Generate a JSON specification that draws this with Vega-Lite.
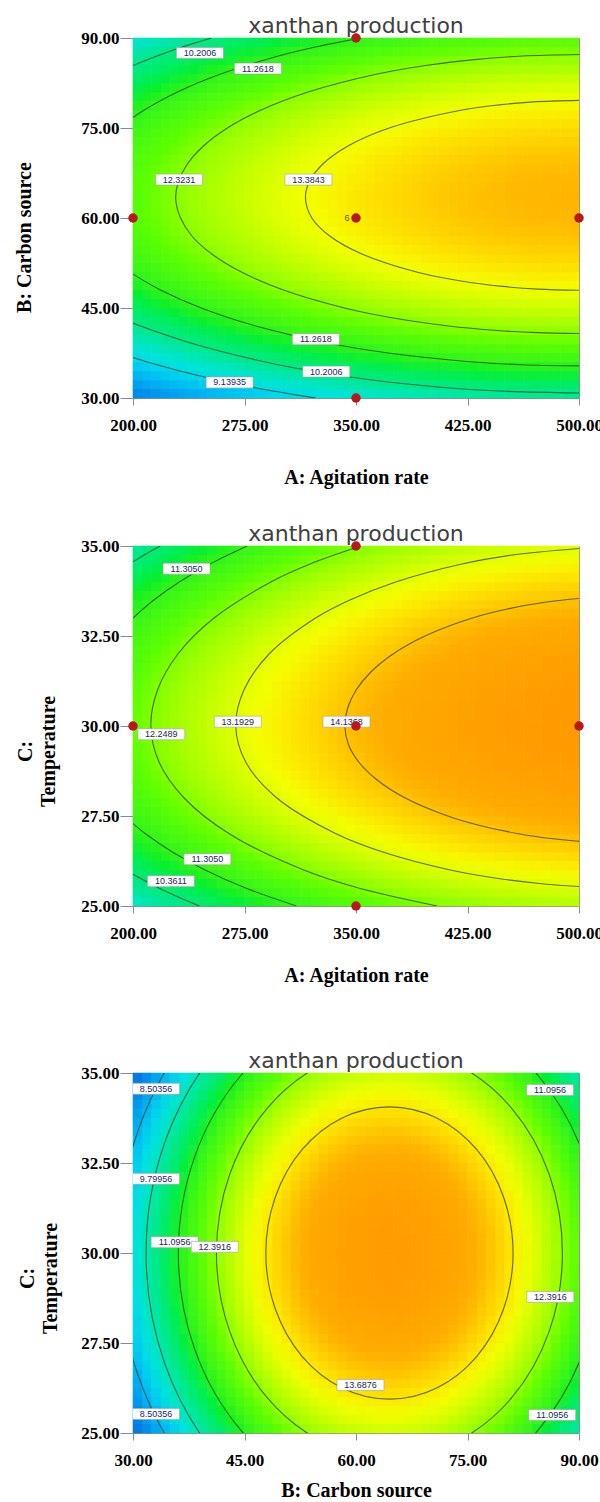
{
"$schema": "https://vega.github.io/schema/vega-lite/v6.json",
"padding": {"left": 14, "top": 15, "right": 0, "bottom": 0},
"background": "#ffffff",
"config": {
 "view": {"stroke": null},
 "axis": {"grid": false, "labelFont": "Liberation Serif", "labelFontWeight": "bold", "labelFontSize": 17, "labelColor": "#000000", "titleFont": "Liberation Serif", "titleFontWeight": "bold", "titleFontSize": 20, "titleColor": "#000000", "tickColor": "#8c8c8c", "domainColor": "#8c8c8c", "zindex": 1, "labelFlush": false, "labelOverlap": false},
 "title": {"font": "DejaVu Sans", "fontSize": 22, "fontWeight": "normal", "color": "#404040", "frame": "group", "anchor": "middle", "offset": -9}
},
"datasets": {
 "grid": [
  {"p":1,"j":[0],"i":[0,1,2,3,4,5,6,7,8,9,10,11,12,13,14,15,16,17,18,19,20,21,22,23],"v":[8.05,8.25,8.43,8.61,8.77,8.93,9.08,9.22,9.36,9.48,9.60,9.71,9.81,9.90,9.99,10.06,10.13,10.19,10.24,10.28,10.32,10.34,10.36,10.37]},
  {"p":1,"j":[1],"i":[0,1,2,3,4,5,6,7,8,9,10,11,12,13,14,15,16,17,18,19,20,21,22,23],"v":[8.75,8.95,9.13,9.31,9.47,9.63,9.78,9.92,10.06,10.18,10.30,10.41,10.51,10.60,10.69,10.76,10.83,10.89,10.94,10.98,11.02,11.04,11.06,11.07]},
  {"p":1,"j":[2],"i":[0,1,2,3,4,5,6,7,8,9,10,11,12,13,14,15,16,17,18,19,20,21,22,23],"v":[9.39,9.59,9.77,9.95,10.11,10.27,10.42,10.56,10.70,10.82,10.94,11.05,11.15,11.24,11.33,11.40,11.47,11.53,11.58,11.62,11.66,11.68,11.70,11.71]},
  {"p":1,"j":[3],"i":[0,1,2,3,4,5,6,7,8,9,10,11,12,13,14,15,16,17,18,19,20,21,22,23],"v":[9.96,10.16,10.34,10.52,10.68,10.84,10.99,11.13,11.27,11.39,11.51,11.62,11.72,11.81,11.90,11.97,12.04,12.10,12.15,12.19,12.23,12.25,12.27,12.28]},
  {"p":1,"j":[4],"i":[0,1,2,3,4,5,6,7,8,9,10,11,12,13,14,15,16,17,18,19,20,21,22,23],"v":[10.46,10.66,10.84,11.02,11.18,11.34,11.49,11.63,11.77,11.89,12.01,12.12,12.22,12.31,12.40,12.47,12.54,12.60,12.65,12.69,12.73,12.75,12.77,12.78]},
  {"p":1,"j":[5],"i":[0,1,2,3,4,5,6,7,8,9,10,11,12,13,14,15,16,17,18,19,20,21,22,23],"v":[10.88,11.08,11.26,11.44,11.60,11.76,11.91,12.05,12.19,12.31,12.43,12.54,12.64,12.73,12.82,12.89,12.96,13.02,13.07,13.11,13.15,13.17,13.19,13.20]},
  {"p":1,"j":[6],"i":[0,1,2,3,4,5,6,7,8,9,10,11,12,13,14,15,16,17,18,19,20,21,22,23],"v":[11.24,11.44,11.62,11.80,11.96,12.12,12.27,12.41,12.55,12.67,12.79,12.90,13.00,13.09,13.18,13.25,13.32,13.38,13.43,13.47,13.51,13.53,13.55,13.56]},
  {"p":1,"j":[7],"i":[0,1,2,3,4,5,6,7,8,9,10,11,12,13,14,15,16,17,18,19,20,21,22,23],"v":[11.53,11.73,11.91,12.09,12.25,12.41,12.56,12.70,12.84,12.96,13.08,13.19,13.29,13.38,13.47,13.54,13.61,13.67,13.72,13.76,13.80,13.82,13.84,13.85]},
  {"p":1,"j":[8],"i":[0,1,2,3,4,5,6,7,8,9,10,11,12,13,14,15,16,17,18,19,20,21,22,23],"v":[11.74,11.94,12.12,12.30,12.46,12.62,12.77,12.91,13.05,13.17,13.29,13.40,13.50,13.59,13.68,13.75,13.82,13.88,13.93,13.97,14.01,14.03,14.05,14.06]},
  {"p":1,"j":[9],"i":[0,1,2,3,4,5,6,7,8,9,10,11,12,13,14,15,16,17,18,19,20,21,22,23],"v":[11.89,12.09,12.27,12.45,12.61,12.77,12.92,13.06,13.20,13.32,13.44,13.55,13.65,13.74,13.83,13.90,13.97,14.03,14.08,14.12,14.16,14.18,14.20,14.21]},
  {"p":1,"j":[10],"i":[0,1,2,3,4,5,6,7,8,9,10,11,12,13,14,15,16,17,18,19,20,21,22,23],"v":[11.97,12.17,12.35,12.53,12.69,12.85,13.00,13.14,13.28,13.40,13.52,13.63,13.73,13.82,13.91,13.98,14.05,14.11,14.16,14.20,14.24,14.26,14.28,14.29]},
  {"p":1,"j":[11],"i":[0,1,2,3,4,5,6,7,8,9,10,11,12,13,14,15,16,17,18,19,20,21,22,23],"v":[11.98,12.18,12.36,12.54,12.70,12.86,13.01,13.15,13.29,13.41,13.53,13.64,13.74,13.83,13.92,13.99,14.06,14.12,14.17,14.21,14.25,14.27,14.29,14.30]},
  {"p":1,"j":[12],"i":[0,1,2,3,4,5,6,7,8,9,10,11,12,13,14,15,16,17,18,19,20,21,22,23],"v":[11.92,12.12,12.30,12.48,12.64,12.80,12.95,13.09,13.23,13.35,13.47,13.58,13.68,13.77,13.86,13.93,14.00,14.06,14.11,14.15,14.19,14.21,14.23,14.24]},
  {"p":1,"j":[13],"i":[0,1,2,3,4,5,6,7,8,9,10,11,12,13,14,15,16,17,18,19,20,21,22,23],"v":[11.80,12.00,12.18,12.36,12.52,12.68,12.83,12.97,13.11,13.23,13.35,13.46,13.56,13.65,13.74,13.81,13.88,13.94,13.99,14.03,14.07,14.09,14.11,14.12]},
  {"p":1,"j":[14],"i":[0,1,2,3,4,5,6,7,8,9,10,11,12,13,14,15,16,17,18,19,20,21,22,23],"v":[11.62,11.82,12.00,12.18,12.34,12.50,12.65,12.79,12.93,13.05,13.17,13.28,13.38,13.47,13.56,13.63,13.70,13.76,13.81,13.85,13.89,13.91,13.93,13.94]},
  {"p":1,"j":[15],"i":[0,1,2,3,4,5,6,7,8,9,10,11,12,13,14,15,16,17,18,19,20,21,22,23],"v":[11.38,11.58,11.76,11.94,12.10,12.26,12.41,12.55,12.69,12.81,12.93,13.04,13.14,13.23,13.32,13.39,13.46,13.52,13.57,13.61,13.65,13.67,13.69,13.70]},
  {"p":1,"j":[16],"i":[0,1,2,3,4,5,6,7,8,9,10,11,12,13,14,15,16,17,18,19,20,21,22,23],"v":[11.08,11.28,11.46,11.64,11.80,11.96,12.11,12.25,12.39,12.51,12.63,12.74,12.84,12.93,13.02,13.09,13.16,13.22,13.27,13.31,13.35,13.37,13.39,13.40]},
  {"p":1,"j":[17],"i":[0,1,2,3,4,5,6,7,8,9,10,11,12,13,14,15,16,17,18,19,20,21,22,23],"v":[10.71,10.91,11.09,11.27,11.43,11.59,11.74,11.88,12.02,12.14,12.26,12.37,12.47,12.56,12.65,12.72,12.79,12.85,12.90,12.94,12.98,13.00,13.02,13.03]},
  {"p":1,"j":[18],"i":[0,1,2,3,4,5,6,7,8,9,10,11,12,13,14,15,16,17,18,19,20,21,22,23],"v":[10.28,10.48,10.66,10.84,11.00,11.16,11.31,11.45,11.59,11.71,11.83,11.94,12.04,12.13,12.22,12.29,12.36,12.42,12.47,12.51,12.55,12.57,12.59,12.60]},
  {"p":1,"j":[19],"i":[0,1,2,3,4,5,6,7,8,9,10,11,12,13,14,15,16,17,18,19,20,21,22,23],"v":[9.79,9.99,10.17,10.35,10.51,10.67,10.82,10.96,11.10,11.22,11.34,11.45,11.55,11.64,11.73,11.80,11.87,11.93,11.98,12.02,12.06,12.08,12.10,12.11]},
  {"p":2,"j":[0],"i":[0,1,2,3,4,5,6,7,8,9,10,11,12,13,14,15,16,17,18,19,20,21,22,23],"v":[9.93,10.16,10.38,10.59,10.79,10.98,11.16,11.33,11.50,11.65,11.80,11.94,12.07,12.19,12.30,12.41,12.50,12.59,12.66,12.73,12.79,12.84,12.88,12.92]},
  {"p":2,"j":[1],"i":[0,1,2,3,4,5,6,7,8,9,10,11,12,13,14,15,16,17,18,19,20,21,22,23],"v":[10.37,10.60,10.82,11.03,11.23,11.42,11.60,11.77,11.94,12.09,12.24,12.38,12.51,12.63,12.74,12.85,12.94,13.03,13.10,13.17,13.23,13.28,13.32,13.36]},
  {"p":2,"j":[2],"i":[0,1,2,3,4,5,6,7,8,9,10,11,12,13,14,15,16,17,18,19,20,21,22,23],"v":[10.76,10.99,11.21,11.42,11.62,11.81,11.99,12.16,12.33,12.48,12.63,12.77,12.90,13.02,13.13,13.24,13.33,13.42,13.49,13.56,13.62,13.67,13.71,13.75]},
  {"p":2,"j":[3],"i":[0,1,2,3,4,5,6,7,8,9,10,11,12,13,14,15,16,17,18,19,20,21,22,23],"v":[11.10,11.33,11.55,11.76,11.96,12.15,12.33,12.50,12.67,12.82,12.97,13.11,13.24,13.36,13.47,13.58,13.67,13.76,13.83,13.90,13.96,14.01,14.05,14.09]},
  {"p":2,"j":[4],"i":[0,1,2,3,4,5,6,7,8,9,10,11,12,13,14,15,16,17,18,19,20,21,22,23],"v":[11.40,11.63,11.85,12.06,12.26,12.45,12.63,12.80,12.97,13.12,13.27,13.41,13.54,13.66,13.77,13.88,13.97,14.06,14.13,14.20,14.26,14.31,14.35,14.39]},
  {"p":2,"j":[5],"i":[0,1,2,3,4,5,6,7,8,9,10,11,12,13,14,15,16,17,18,19,20,21,22,23],"v":[11.64,11.87,12.09,12.30,12.50,12.69,12.87,13.04,13.21,13.36,13.51,13.65,13.78,13.90,14.01,14.12,14.21,14.30,14.37,14.44,14.50,14.55,14.59,14.63]},
  {"p":2,"j":[6],"i":[0,1,2,3,4,5,6,7,8,9,10,11,12,13,14,15,16,17,18,19,20,21,22,23],"v":[11.84,12.07,12.29,12.50,12.70,12.89,13.07,13.24,13.41,13.56,13.71,13.85,13.98,14.10,14.21,14.32,14.41,14.50,14.57,14.64,14.70,14.75,14.79,14.83]},
  {"p":2,"j":[7],"i":[0,1,2,3,4,5,6,7,8,9,10,11,12,13,14,15,16,17,18,19,20,21,22,23],"v":[11.99,12.22,12.44,12.65,12.85,13.04,13.22,13.39,13.56,13.71,13.86,14.00,14.13,14.25,14.36,14.47,14.56,14.65,14.72,14.79,14.85,14.90,14.94,14.98]},
  {"p":2,"j":[8],"i":[0,1,2,3,4,5,6,7,8,9,10,11,12,13,14,15,16,17,18,19,20,21,22,23],"v":[12.08,12.31,12.53,12.74,12.94,13.13,13.31,13.48,13.65,13.80,13.95,14.09,14.22,14.34,14.45,14.56,14.65,14.74,14.81,14.88,14.94,14.99,15.03,15.07]},
  {"p":2,"j":[9,10],"i":[0,1,2,3,4,5,6,7,8,9,10,11,12,13,14,15,16,17,18,19,20,21,22,23],"v":[12.13,12.36,12.58,12.79,12.99,13.18,13.36,13.53,13.70,13.85,14.00,14.14,14.27,14.39,14.50,14.61,14.70,14.79,14.86,14.93,14.99,15.04,15.08,15.12]},
  {"p":2,"j":[11],"i":[0,1,2,3,4,5,6,7,8,9,10,11,12,13,14,15,16,17,18,19,20,21,22,23],"v":[12.09,12.32,12.54,12.75,12.95,13.14,13.32,13.49,13.66,13.81,13.96,14.10,14.23,14.35,14.46,14.57,14.66,14.75,14.82,14.89,14.95,15.00,15.04,15.08]},
  {"p":2,"j":[12],"i":[0,1,2,3,4,5,6,7,8,9,10,11,12,13,14,15,16,17,18,19,20,21,22,23],"v":[12.02,12.25,12.47,12.68,12.88,13.07,13.25,13.42,13.59,13.74,13.89,14.03,14.16,14.28,14.39,14.50,14.59,14.68,14.75,14.82,14.88,14.93,14.97,15.01]},
  {"p":2,"j":[13],"i":[0,1,2,3,4,5,6,7,8,9,10,11,12,13,14,15,16,17,18,19,20,21,22,23],"v":[11.89,12.12,12.34,12.55,12.75,12.94,13.12,13.29,13.46,13.61,13.76,13.90,14.03,14.15,14.26,14.37,14.46,14.55,14.62,14.69,14.75,14.80,14.84,14.88]},
  {"p":2,"j":[14],"i":[0,1,2,3,4,5,6,7,8,9,10,11,12,13,14,15,16,17,18,19,20,21,22,23],"v":[11.74,11.97,12.19,12.40,12.60,12.79,12.97,13.14,13.31,13.46,13.61,13.75,13.88,14.00,14.11,14.22,14.31,14.40,14.47,14.54,14.60,14.65,14.69,14.73]},
  {"p":2,"j":[15],"i":[0,1,2,3,4,5,6,7,8,9,10,11,12,13,14,15,16,17,18,19,20,21,22,23],"v":[11.54,11.77,11.99,12.20,12.40,12.59,12.77,12.94,13.11,13.26,13.41,13.55,13.68,13.80,13.91,14.02,14.11,14.20,14.27,14.34,14.40,14.45,14.49,14.53]},
  {"p":2,"j":[16],"i":[0,1,2,3,4,5,6,7,8,9,10,11,12,13,14,15,16,17,18,19,20,21,22,23],"v":[11.29,11.52,11.74,11.95,12.15,12.34,12.52,12.69,12.86,13.01,13.16,13.30,13.43,13.55,13.66,13.77,13.86,13.95,14.02,14.09,14.15,14.20,14.24,14.28]},
  {"p":2,"j":[17],"i":[0,1,2,3,4,5,6,7,8,9,10,11,12,13,14,15,16,17,18,19,20,21,22,23],"v":[11.02,11.25,11.47,11.68,11.88,12.07,12.25,12.42,12.59,12.74,12.89,13.03,13.16,13.28,13.39,13.50,13.59,13.68,13.75,13.82,13.88,13.93,13.97,14.01]},
  {"p":2,"j":[18],"i":[0,1,2,3,4,5,6,7,8,9,10,11,12,13,14,15,16,17,18,19,20,21,22,23],"v":[10.69,10.92,11.14,11.35,11.55,11.74,11.92,12.09,12.26,12.41,12.56,12.70,12.83,12.95,13.06,13.17,13.26,13.35,13.42,13.49,13.55,13.60,13.64,13.68]},
  {"p":2,"j":[19],"i":[0,1,2,3,4,5,6,7,8,9,10,11,12,13,14,15,16,17,18,19,20,21,22,23],"v":[10.34,10.57,10.79,11.00,11.20,11.39,11.57,11.74,11.91,12.06,12.21,12.35,12.48,12.60,12.71,12.82,12.91,13.00,13.07,13.14,13.20,13.25,13.29,13.33]},
  {"p":3,"j":[0,19],"i":[0,1,2,3,4,5,6,7,8,9,10,11,12,13,14,15,16,17,18,19,20,21,22,23],"v":[7.79,8.57,9.29,9.95,10.55,11.08,11.56,11.98,12.33,12.63,12.86,13.03,13.14,13.19,13.18,13.10,12.97,12.77,12.51,12.20,11.82,11.38,10.88,10.32]},
  {"p":3,"j":[1,18],"i":[0,1,2,3,4,5,6,7,8,9,10,11,12,13,14,15,16,17,18,19,20,21,22,23],"v":[8.16,8.94,9.66,10.32,10.92,11.45,11.93,12.35,12.70,13.00,13.23,13.40,13.51,13.56,13.55,13.47,13.34,13.14,12.88,12.57,12.19,11.75,11.25,10.69]},
  {"p":3,"j":[2,17],"i":[0,1,2,3,4,5,6,7,8,9,10,11,12,13,14,15,16,17,18,19,20,21,22,23],"v":[8.49,9.27,9.99,10.65,11.25,11.78,12.26,12.68,13.03,13.33,13.56,13.73,13.84,13.89,13.88,13.80,13.67,13.47,13.21,12.90,12.52,12.08,11.58,11.02]},
  {"p":3,"j":[3,16],"i":[0,1,2,3,4,5,6,7,8,9,10,11,12,13,14,15,16,17,18,19,20,21,22,23],"v":[8.77,9.55,10.27,10.93,11.53,12.06,12.54,12.96,13.31,13.61,13.84,14.01,14.12,14.17,14.16,14.08,13.95,13.75,13.49,13.18,12.80,12.36,11.86,11.30]},
  {"p":3,"j":[4,15],"i":[0,1,2,3,4,5,6,7,8,9,10,11,12,13,14,15,16,17,18,19,20,21,22,23],"v":[9.02,9.80,10.52,11.18,11.78,12.31,12.79,13.21,13.56,13.86,14.09,14.26,14.37,14.42,14.41,14.33,14.20,14.00,13.74,13.43,13.05,12.61,12.11,11.55]},
  {"p":3,"j":[5,14],"i":[0,1,2,3,4,5,6,7,8,9,10,11,12,13,14,15,16,17,18,19,20,21,22,23],"v":[9.23,10.01,10.73,11.39,11.99,12.52,13.00,13.42,13.77,14.07,14.30,14.47,14.58,14.63,14.62,14.54,14.41,14.21,13.95,13.64,13.26,12.82,12.32,11.76]},
  {"p":3,"j":[6,13],"i":[0,1,2,3,4,5,6,7,8,9,10,11,12,13,14,15,16,17,18,19,20,21,22,23],"v":[9.39,10.17,10.89,11.55,12.15,12.68,13.16,13.58,13.93,14.23,14.46,14.63,14.74,14.79,14.78,14.70,14.57,14.37,14.11,13.80,13.42,12.98,12.48,11.92]},
  {"p":3,"j":[7,12],"i":[0,1,2,3,4,5,6,7,8,9,10,11,12,13,14,15,16,17,18,19,20,21,22,23],"v":[9.51,10.29,11.01,11.67,12.27,12.80,13.28,13.70,14.05,14.35,14.58,14.75,14.86,14.91,14.90,14.82,14.69,14.49,14.23,13.92,13.54,13.10,12.60,12.04]},
  {"p":3,"j":[8,11],"i":[0,1,2,3,4,5,6,7,8,9,10,11,12,13,14,15,16,17,18,19,20,21,22,23],"v":[9.59,10.37,11.09,11.75,12.35,12.88,13.36,13.78,14.13,14.43,14.66,14.83,14.94,14.99,14.98,14.90,14.77,14.57,14.31,14.00,13.62,13.18,12.68,12.12]},
  {"p":3,"j":[9,10],"i":[0,1,2,3,4,5,6,7,8,9,10,11,12,13,14,15,16,17,18,19,20,21,22,23],"v":[9.63,10.41,11.13,11.79,12.39,12.92,13.40,13.82,14.17,14.47,14.70,14.87,14.98,15.03,15.02,14.94,14.81,14.61,14.35,14.04,13.66,13.22,12.72,12.16]}
 ],
 "grid2": [
  {"p":1,"y":[30],"x":[200,212.5,225,237.5,250,262.5,275,287.5,300,312.5,325,337.5,350,362.5,375,387.5,400,412.5,425,437.5,450,462.5,475,487.5,500],"v":[7.58,7.77,7.96,8.14,8.31,8.47,8.63,8.77,8.91,9.04,9.16,9.27,9.38,9.48,9.56,9.64,9.72,9.78,9.83,9.88,9.92,9.95,9.97,9.98,9.99]},
  {"p":1,"y":[33],"x":[200,212.5,225,237.5,250,262.5,275,287.5,300,312.5,325,337.5,350,362.5,375,387.5,400,412.5,425,437.5,450,462.5,475,487.5,500],"v":[8.32,8.51,8.70,8.88,9.05,9.21,9.37,9.51,9.65,9.78,9.90,10.01,10.12,10.22,10.30,10.38,10.46,10.52,10.57,10.62,10.66,10.69,10.71,10.72,10.73]},
  {"p":1,"y":[36],"x":[200,212.5,225,237.5,250,262.5,275,287.5,300,312.5,325,337.5,350,362.5,375,387.5,400,412.5,425,437.5,450,462.5,475,487.5,500],"v":[8.99,9.18,9.37,9.55,9.72,9.88,10.04,10.18,10.32,10.45,10.57,10.68,10.79,10.89,10.97,11.05,11.13,11.19,11.24,11.29,11.33,11.36,11.38,11.39,11.40]},
  {"p":1,"y":[39],"x":[200,212.5,225,237.5,250,262.5,275,287.5,300,312.5,325,337.5,350,362.5,375,387.5,400,412.5,425,437.5,450,462.5,475,487.5,500],"v":[9.59,9.78,9.97,10.15,10.32,10.48,10.64,10.78,10.92,11.05,11.17,11.28,11.39,11.49,11.57,11.65,11.73,11.79,11.84,11.89,11.93,11.96,11.98,11.99,12.00]},
  {"p":1,"y":[42],"x":[200,212.5,225,237.5,250,262.5,275,287.5,300,312.5,325,337.5,350,362.5,375,387.5,400,412.5,425,437.5,450,462.5,475,487.5,500],"v":[10.13,10.32,10.51,10.69,10.86,11.02,11.18,11.32,11.46,11.59,11.71,11.82,11.93,12.03,12.11,12.19,12.27,12.33,12.38,12.43,12.47,12.50,12.52,12.53,12.54]},
  {"p":1,"y":[45],"x":[200,212.5,225,237.5,250,262.5,275,287.5,300,312.5,325,337.5,350,362.5,375,387.5,400,412.5,425,437.5,450,462.5,475,487.5,500],"v":[10.59,10.78,10.97,11.15,11.32,11.48,11.64,11.78,11.92,12.05,12.17,12.28,12.39,12.49,12.57,12.65,12.73,12.79,12.84,12.89,12.93,12.96,12.98,12.99,13.00]},
  {"p":1,"y":[48],"x":[200,212.5,225,237.5,250,262.5,275,287.5,300,312.5,325,337.5,350,362.5,375,387.5,400,412.5,425,437.5,450,462.5,475,487.5,500],"v":[10.98,11.17,11.36,11.54,11.71,11.87,12.03,12.17,12.31,12.44,12.56,12.67,12.78,12.88,12.96,13.04,13.12,13.18,13.23,13.28,13.32,13.35,13.37,13.38,13.39]},
  {"p":1,"y":[51],"x":[200,212.5,225,237.5,250,262.5,275,287.5,300,312.5,325,337.5,350,362.5,375,387.5,400,412.5,425,437.5,450,462.5,475,487.5,500],"v":[11.30,11.49,11.68,11.86,12.03,12.19,12.35,12.49,12.63,12.76,12.88,12.99,13.10,13.20,13.28,13.36,13.44,13.50,13.55,13.60,13.64,13.67,13.69,13.70,13.71]},
  {"p":1,"y":[54],"x":[200,212.5,225,237.5,250,262.5,275,287.5,300,312.5,325,337.5,350,362.5,375,387.5,400,412.5,425,437.5,450,462.5,475,487.5,500],"v":[11.55,11.74,11.93,12.11,12.28,12.44,12.60,12.74,12.88,13.01,13.13,13.24,13.35,13.45,13.53,13.61,13.69,13.75,13.80,13.85,13.89,13.92,13.94,13.95,13.96]},
  {"p":1,"y":[57],"x":[200,212.5,225,237.5,250,262.5,275,287.5,300,312.5,325,337.5,350,362.5,375,387.5,400,412.5,425,437.5,450,462.5,475,487.5,500],"v":[11.74,11.93,12.12,12.30,12.47,12.63,12.79,12.93,13.07,13.20,13.32,13.43,13.54,13.64,13.72,13.80,13.88,13.94,13.99,14.04,14.08,14.11,14.13,14.14,14.15]},
  {"p":1,"y":[60],"x":[200,212.5,225,237.5,250,262.5,275,287.5,300,312.5,325,337.5,350,362.5,375,387.5,400,412.5,425,437.5,450,462.5,475,487.5,500],"v":[11.85,12.04,12.23,12.41,12.58,12.74,12.90,13.04,13.18,13.31,13.43,13.54,13.65,13.75,13.83,13.91,13.99,14.05,14.10,14.15,14.19,14.22,14.24,14.25,14.26]},
  {"p":1,"y":[63],"x":[200,212.5,225,237.5,250,262.5,275,287.5,300,312.5,325,337.5,350,362.5,375,387.5,400,412.5,425,437.5,450,462.5,475,487.5,500],"v":[11.89,12.08,12.27,12.45,12.62,12.78,12.94,13.08,13.22,13.35,13.47,13.58,13.69,13.79,13.87,13.95,14.03,14.09,14.14,14.19,14.23,14.26,14.28,14.29,14.30]},
  {"p":1,"y":[66],"x":[200,212.5,225,237.5,250,262.5,275,287.5,300,312.5,325,337.5,350,362.5,375,387.5,400,412.5,425,437.5,450,462.5,475,487.5,500],"v":[11.86,12.05,12.24,12.42,12.59,12.75,12.91,13.05,13.19,13.32,13.44,13.55,13.66,13.76,13.84,13.92,14.00,14.06,14.11,14.16,14.20,14.23,14.25,14.26,14.27]},
  {"p":1,"y":[69],"x":[200,212.5,225,237.5,250,262.5,275,287.5,300,312.5,325,337.5,350,362.5,375,387.5,400,412.5,425,437.5,450,462.5,475,487.5,500],"v":[11.78,11.97,12.16,12.34,12.51,12.67,12.83,12.97,13.11,13.24,13.36,13.47,13.58,13.68,13.76,13.84,13.92,13.98,14.03,14.08,14.12,14.15,14.17,14.18,14.19]},
  {"p":1,"y":[72],"x":[200,212.5,225,237.5,250,262.5,275,287.5,300,312.5,325,337.5,350,362.5,375,387.5,400,412.5,425,437.5,450,462.5,475,487.5,500],"v":[11.63,11.82,12.01,12.19,12.36,12.52,12.68,12.82,12.96,13.09,13.21,13.32,13.43,13.53,13.61,13.69,13.77,13.83,13.88,13.93,13.97,14.00,14.02,14.03,14.04]},
  {"p":1,"y":[75],"x":[200,212.5,225,237.5,250,262.5,275,287.5,300,312.5,325,337.5,350,362.5,375,387.5,400,412.5,425,437.5,450,462.5,475,487.5,500],"v":[11.42,11.61,11.80,11.98,12.15,12.31,12.47,12.61,12.75,12.88,13.00,13.11,13.22,13.32,13.40,13.48,13.56,13.62,13.67,13.72,13.76,13.79,13.81,13.82,13.83]},
  {"p":1,"y":[78],"x":[200,212.5,225,237.5,250,262.5,275,287.5,300,312.5,325,337.5,350,362.5,375,387.5,400,412.5,425,437.5,450,462.5,475,487.5,500],"v":[11.15,11.34,11.53,11.71,11.88,12.04,12.20,12.34,12.48,12.61,12.73,12.84,12.95,13.05,13.13,13.21,13.29,13.35,13.40,13.45,13.49,13.52,13.54,13.55,13.56]},
  {"p":1,"y":[81],"x":[200,212.5,225,237.5,250,262.5,275,287.5,300,312.5,325,337.5,350,362.5,375,387.5,400,412.5,425,437.5,450,462.5,475,487.5,500],"v":[10.81,11.00,11.19,11.37,11.54,11.70,11.86,12.00,12.14,12.27,12.39,12.50,12.61,12.71,12.79,12.87,12.95,13.01,13.06,13.11,13.15,13.18,13.20,13.21,13.22]},
  {"p":1,"y":[84],"x":[200,212.5,225,237.5,250,262.5,275,287.5,300,312.5,325,337.5,350,362.5,375,387.5,400,412.5,425,437.5,450,462.5,475,487.5,500],"v":[10.41,10.60,10.79,10.97,11.14,11.30,11.46,11.60,11.74,11.87,11.99,12.10,12.21,12.31,12.39,12.47,12.55,12.61,12.66,12.71,12.75,12.78,12.80,12.81,12.82]},
  {"p":1,"y":[87],"x":[200,212.5,225,237.5,250,262.5,275,287.5,300,312.5,325,337.5,350,362.5,375,387.5,400,412.5,425,437.5,450,462.5,475,487.5,500],"v":[9.96,10.15,10.34,10.52,10.69,10.85,11.01,11.15,11.29,11.42,11.54,11.65,11.76,11.86,11.94,12.02,12.10,12.16,12.21,12.26,12.30,12.33,12.35,12.36,12.37]},
  {"p":1,"y":[90],"x":[200,212.5,225,237.5,250,262.5,275,287.5,300,312.5,325,337.5,350,362.5,375,387.5,400,412.5,425,437.5,450,462.5,475,487.5,500],"v":[9.43,9.62,9.81,9.99,10.16,10.32,10.48,10.62,10.76,10.89,11.01,11.12,11.23,11.33,11.41,11.49,11.57,11.63,11.68,11.73,11.77,11.80,11.82,11.83,11.84]},
  {"p":2,"y":[25],"x":[200,212.5,225,237.5,250,262.5,275,287.5,300,312.5,325,337.5,350,362.5,375,387.5,400,412.5,425,437.5,450,462.5,475,487.5,500],"v":[9.58,9.81,10.03,10.24,10.45,10.64,10.83,11.01,11.18,11.34,11.49,11.63,11.77,11.89,12.01,12.12,12.21,12.31,12.39,12.46,12.52,12.58,12.62,12.66,12.69]},
  {"p":2,"y":[25.5],"x":[200,212.5,225,237.5,250,262.5,275,287.5,300,312.5,325,337.5,350,362.5,375,387.5,400,412.5,425,437.5,450,462.5,475,487.5,500],"v":[10.05,10.28,10.50,10.71,10.92,11.11,11.30,11.48,11.65,11.81,11.96,12.10,12.24,12.36,12.48,12.59,12.68,12.78,12.86,12.93,12.99,13.05,13.09,13.13,13.16]},
  {"p":2,"y":[26],"x":[200,212.5,225,237.5,250,262.5,275,287.5,300,312.5,325,337.5,350,362.5,375,387.5,400,412.5,425,437.5,450,462.5,475,487.5,500],"v":[10.46,10.69,10.91,11.12,11.33,11.52,11.71,11.89,12.06,12.22,12.37,12.51,12.65,12.77,12.89,13.00,13.09,13.19,13.27,13.34,13.40,13.46,13.50,13.54,13.57]},
  {"p":2,"y":[26.5],"x":[200,212.5,225,237.5,250,262.5,275,287.5,300,312.5,325,337.5,350,362.5,375,387.5,400,412.5,425,437.5,450,462.5,475,487.5,500],"v":[10.83,11.06,11.28,11.49,11.70,11.89,12.08,12.26,12.43,12.59,12.74,12.88,13.02,13.14,13.26,13.37,13.46,13.56,13.64,13.71,13.77,13.83,13.87,13.91,13.94]},
  {"p":2,"y":[27],"x":[200,212.5,225,237.5,250,262.5,275,287.5,300,312.5,325,337.5,350,362.5,375,387.5,400,412.5,425,437.5,450,462.5,475,487.5,500],"v":[11.15,11.38,11.60,11.81,12.02,12.21,12.40,12.58,12.75,12.91,13.06,13.20,13.34,13.46,13.58,13.69,13.78,13.88,13.96,14.03,14.09,14.15,14.19,14.23,14.26]},
  {"p":2,"y":[27.5],"x":[200,212.5,225,237.5,250,262.5,275,287.5,300,312.5,325,337.5,350,362.5,375,387.5,400,412.5,425,437.5,450,462.5,475,487.5,500],"v":[11.42,11.65,11.87,12.08,12.29,12.48,12.67,12.85,13.02,13.18,13.33,13.47,13.61,13.73,13.85,13.96,14.05,14.15,14.23,14.30,14.36,14.42,14.46,14.50,14.53]},
  {"p":2,"y":[28],"x":[200,212.5,225,237.5,250,262.5,275,287.5,300,312.5,325,337.5,350,362.5,375,387.5,400,412.5,425,437.5,450,462.5,475,487.5,500],"v":[11.64,11.87,12.09,12.30,12.51,12.70,12.89,13.07,13.24,13.40,13.55,13.69,13.83,13.95,14.07,14.18,14.27,14.37,14.45,14.52,14.58,14.64,14.68,14.72,14.75]},
  {"p":2,"y":[28.5],"x":[200,212.5,225,237.5,250,262.5,275,287.5,300,312.5,325,337.5,350,362.5,375,387.5,400,412.5,425,437.5,450,462.5,475,487.5,500],"v":[11.81,12.04,12.26,12.47,12.68,12.87,13.06,13.24,13.41,13.57,13.72,13.86,14.00,14.12,14.24,14.35,14.44,14.54,14.62,14.69,14.75,14.81,14.85,14.89,14.92]},
  {"p":2,"y":[29],"x":[200,212.5,225,237.5,250,262.5,275,287.5,300,312.5,325,337.5,350,362.5,375,387.5,400,412.5,425,437.5,450,462.5,475,487.5,500],"v":[11.93,12.16,12.38,12.59,12.80,12.99,13.18,13.36,13.53,13.69,13.84,13.98,14.12,14.24,14.36,14.47,14.56,14.66,14.74,14.81,14.87,14.93,14.97,15.01,15.04]},
  {"p":2,"y":[29.5,30.5],"x":[200,212.5,225,237.5,250,262.5,275,287.5,300,312.5,325,337.5,350,362.5,375,387.5,400,412.5,425,437.5,450,462.5,475,487.5,500],"v":[12.01,12.24,12.46,12.67,12.88,13.07,13.26,13.44,13.61,13.77,13.92,14.06,14.20,14.32,14.44,14.55,14.64,14.74,14.82,14.89,14.95,15.01,15.05,15.09,15.12]},
  {"p":2,"y":[30],"x":[200,212.5,225,237.5,250,262.5,275,287.5,300,312.5,325,337.5,350,362.5,375,387.5,400,412.5,425,437.5,450,462.5,475,487.5,500],"v":[12.03,12.26,12.48,12.69,12.90,13.09,13.28,13.46,13.63,13.79,13.94,14.08,14.22,14.34,14.46,14.57,14.66,14.76,14.84,14.91,14.97,15.03,15.07,15.11,15.14]},
  {"p":2,"y":[31],"x":[200,212.5,225,237.5,250,262.5,275,287.5,300,312.5,325,337.5,350,362.5,375,387.5,400,412.5,425,437.5,450,462.5,475,487.5,500],"v":[11.95,12.18,12.40,12.61,12.82,13.01,13.20,13.38,13.55,13.71,13.86,14.00,14.14,14.26,14.38,14.49,14.58,14.68,14.76,14.83,14.89,14.95,14.99,15.03,15.06]},
  {"p":2,"y":[31.5],"x":[200,212.5,225,237.5,250,262.5,275,287.5,300,312.5,325,337.5,350,362.5,375,387.5,400,412.5,425,437.5,450,462.5,475,487.5,500],"v":[11.85,12.08,12.30,12.51,12.72,12.91,13.10,13.28,13.45,13.61,13.76,13.90,14.04,14.16,14.28,14.39,14.48,14.58,14.66,14.73,14.79,14.85,14.89,14.93,14.96]},
  {"p":2,"y":[32],"x":[200,212.5,225,237.5,250,262.5,275,287.5,300,312.5,325,337.5,350,362.5,375,387.5,400,412.5,425,437.5,450,462.5,475,487.5,500],"v":[11.71,11.94,12.16,12.37,12.58,12.77,12.96,13.14,13.31,13.47,13.62,13.76,13.90,14.02,14.14,14.25,14.34,14.44,14.52,14.59,14.65,14.71,14.75,14.79,14.82]},
  {"p":2,"y":[32.5],"x":[200,212.5,225,237.5,250,262.5,275,287.5,300,312.5,325,337.5,350,362.5,375,387.5,400,412.5,425,437.5,450,462.5,475,487.5,500],"v":[11.53,11.76,11.98,12.19,12.40,12.59,12.78,12.96,13.13,13.29,13.44,13.58,13.72,13.84,13.96,14.07,14.16,14.26,14.34,14.41,14.47,14.53,14.57,14.61,14.64]},
  {"p":2,"y":[33],"x":[200,212.5,225,237.5,250,262.5,275,287.5,300,312.5,325,337.5,350,362.5,375,387.5,400,412.5,425,437.5,450,462.5,475,487.5,500],"v":[11.31,11.54,11.76,11.97,12.18,12.37,12.56,12.74,12.91,13.07,13.22,13.36,13.50,13.62,13.74,13.85,13.94,14.04,14.12,14.19,14.25,14.31,14.35,14.39,14.42]},
  {"p":2,"y":[33.5],"x":[200,212.5,225,237.5,250,262.5,275,287.5,300,312.5,325,337.5,350,362.5,375,387.5,400,412.5,425,437.5,450,462.5,475,487.5,500],"v":[11.05,11.28,11.50,11.71,11.92,12.11,12.30,12.48,12.65,12.81,12.96,13.10,13.24,13.36,13.48,13.59,13.68,13.78,13.86,13.93,13.99,14.05,14.09,14.13,14.16]},
  {"p":2,"y":[34],"x":[200,212.5,225,237.5,250,262.5,275,287.5,300,312.5,325,337.5,350,362.5,375,387.5,400,412.5,425,437.5,450,462.5,475,487.5,500],"v":[10.75,10.98,11.20,11.41,11.62,11.81,12.00,12.18,12.35,12.51,12.66,12.80,12.94,13.06,13.18,13.29,13.38,13.48,13.56,13.63,13.69,13.75,13.79,13.83,13.86]},
  {"p":2,"y":[34.5],"x":[200,212.5,225,237.5,250,262.5,275,287.5,300,312.5,325,337.5,350,362.5,375,387.5,400,412.5,425,437.5,450,462.5,475,487.5,500],"v":[10.41,10.64,10.86,11.07,11.28,11.47,11.66,11.84,12.01,12.17,12.32,12.46,12.60,12.72,12.84,12.95,13.04,13.14,13.22,13.29,13.35,13.41,13.45,13.49,13.52]},
  {"p":2,"y":[35],"x":[200,212.5,225,237.5,250,262.5,275,287.5,300,312.5,325,337.5,350,362.5,375,387.5,400,412.5,425,437.5,450,462.5,475,487.5,500],"v":[10.03,10.26,10.48,10.69,10.90,11.09,11.28,11.46,11.63,11.79,11.94,12.08,12.22,12.34,12.46,12.57,12.66,12.76,12.84,12.91,12.97,13.03,13.07,13.11,13.14]},
  {"p":3,"y":[25,35],"x":[30,32.5,35,37.5,40,42.5,45,47.5,50,52.5,55,57.5,60,62.5,65,67.5,70,72.5,75,77.5,80,82.5,85,87.5,90],"v":[7.17,7.98,8.74,9.43,10.06,10.62,11.13,11.58,11.96,12.29,12.55,12.75,12.89,12.97,12.99,12.95,12.84,12.68,12.45,12.16,11.82,11.41,10.94,10.40,9.81]},
  {"p":3,"y":[25.5,34.5],"x":[30,32.5,35,37.5,40,42.5,45,47.5,50,52.5,55,57.5,60,62.5,65,67.5,70,72.5,75,77.5,80,82.5,85,87.5,90],"v":[7.56,8.37,9.13,9.82,10.45,11.01,11.52,11.97,12.35,12.68,12.94,13.14,13.28,13.36,13.38,13.34,13.23,13.07,12.84,12.55,12.21,11.80,11.33,10.79,10.20]},
  {"p":3,"y":[26,34],"x":[30,32.5,35,37.5,40,42.5,45,47.5,50,52.5,55,57.5,60,62.5,65,67.5,70,72.5,75,77.5,80,82.5,85,87.5,90],"v":[7.91,8.72,9.48,10.17,10.80,11.36,11.87,12.32,12.70,13.03,13.29,13.49,13.63,13.71,13.73,13.69,13.58,13.42,13.19,12.90,12.56,12.15,11.68,11.14,10.55]},
  {"p":3,"y":[26.5,33.5],"x":[30,32.5,35,37.5,40,42.5,45,47.5,50,52.5,55,57.5,60,62.5,65,67.5,70,72.5,75,77.5,80,82.5,85,87.5,90],"v":[8.22,9.03,9.79,10.48,11.11,11.67,12.18,12.63,13.01,13.34,13.60,13.80,13.94,14.02,14.04,14.00,13.89,13.73,13.50,13.21,12.87,12.46,11.99,11.45,10.86]},
  {"p":3,"y":[27,33],"x":[30,32.5,35,37.5,40,42.5,45,47.5,50,52.5,55,57.5,60,62.5,65,67.5,70,72.5,75,77.5,80,82.5,85,87.5,90],"v":[8.48,9.29,10.05,10.74,11.37,11.93,12.44,12.89,13.27,13.60,13.86,14.06,14.20,14.28,14.30,14.26,14.15,13.99,13.76,13.47,13.13,12.72,12.25,11.71,11.12]},
  {"p":3,"y":[27.5,32.5],"x":[30,32.5,35,37.5,40,42.5,45,47.5,50,52.5,55,57.5,60,62.5,65,67.5,70,72.5,75,77.5,80,82.5,85,87.5,90],"v":[8.71,9.52,10.28,10.97,11.60,12.16,12.67,13.12,13.50,13.83,14.09,14.29,14.43,14.51,14.53,14.49,14.38,14.22,13.99,13.70,13.36,12.95,12.48,11.94,11.35]},
  {"p":3,"y":[28,32],"x":[30,32.5,35,37.5,40,42.5,45,47.5,50,52.5,55,57.5,60,62.5,65,67.5,70,72.5,75,77.5,80,82.5,85,87.5,90],"v":[8.89,9.70,10.46,11.15,11.78,12.34,12.85,13.30,13.68,14.01,14.27,14.47,14.61,14.69,14.71,14.67,14.56,14.40,14.17,13.88,13.54,13.13,12.66,12.12,11.53]},
  {"p":3,"y":[28.5,31.5],"x":[30,32.5,35,37.5,40,42.5,45,47.5,50,52.5,55,57.5,60,62.5,65,67.5,70,72.5,75,77.5,80,82.5,85,87.5,90],"v":[9.04,9.85,10.61,11.30,11.93,12.49,13.00,13.45,13.83,14.16,14.42,14.62,14.76,14.84,14.86,14.82,14.71,14.55,14.32,14.03,13.69,13.28,12.81,12.27,11.68]},
  {"p":3,"y":[29,31],"x":[30,32.5,35,37.5,40,42.5,45,47.5,50,52.5,55,57.5,60,62.5,65,67.5,70,72.5,75,77.5,80,82.5,85,87.5,90],"v":[9.14,9.95,10.71,11.40,12.03,12.59,13.10,13.55,13.93,14.26,14.52,14.72,14.86,14.94,14.96,14.92,14.81,14.65,14.42,14.13,13.79,13.38,12.91,12.37,11.78]},
  {"p":3,"y":[29.5,30.5],"x":[30,32.5,35,37.5,40,42.5,45,47.5,50,52.5,55,57.5,60,62.5,65,67.5,70,72.5,75,77.5,80,82.5,85,87.5,90],"v":[9.20,10.01,10.77,11.46,12.09,12.65,13.16,13.61,13.99,14.32,14.58,14.78,14.92,15.00,15.02,14.98,14.87,14.71,14.48,14.19,13.85,13.44,12.97,12.43,11.84]},
  {"p":3,"y":[30],"x":[30,32.5,35,37.5,40,42.5,45,47.5,50,52.5,55,57.5,60,62.5,65,67.5,70,72.5,75,77.5,80,82.5,85,87.5,90],"v":[9.22,10.03,10.79,11.48,12.11,12.67,13.18,13.63,14.01,14.34,14.60,14.80,14.94,15.02,15.04,15.00,14.89,14.73,14.50,14.21,13.87,13.46,12.99,12.45,11.86]}
 ],
 "contours": [
  {"p":1,"L":"A","k":[0,1,2,3,4,5,6,7,8,9,10,11,12,13,14,15,16],"x":[500,469.3,447.8,421.4,372.4,344.6,327.7,318.5,316,320.3,332.3,354,390.7,420.6,448.6,472.4,500],"y":[79.6,79.35,78.9,78,75,72,69,66,63.3,60,57,54,51,49.5,48.6,48.15,47.96]},
  {"p":1,"L":"B","k":[0,1,2,3,4,5,6,7,8,9,10,11,12,13,14,15,16,17,18,19,20,21,22],"x":[500,462,429.5,399.2,364.3,317.8,286.2,263.5,247.4,236.6,230.5,228.7,232,239.6,253,272.9,301.2,342.3,371.2,412.3,444.9,471.9,500],"y":[87.26,87,86.4,85.5,84,81,78,75,72,69,66,63.3,60,57,54,51,48,45,43.5,42,41.25,40.89,40.76]},
  {"p":1,"L":"C","k":[0,1,2,3,4,5,6],"x":[200,207.6,229.9,259,297.8,322.7,353.6],"y":[76.75,78,81,84,87,88.5,90]},
  {"p":1,"L":"D","k":[0,1,2,3,4,5,6,7,8],"x":[200,218.5,245.9,282.6,334.5,371.6,429.2,461.4,500],"y":[50.64,48,45,42,39,37.5,36,35.55,35.35]},
  {"p":1,"L":"E","k":[0,1,2,3],"x":[200,216.1,233.2,252.8],"y":[85.41,87,88.5,90]},
  {"p":1,"L":"F","k":[0,1,2,3,4,5,6,7,8],"x":[200,205,241,289,320.3,360.6,406.6,442.9,500],"y":[42.49,42,39,36,34.5,33,31.8,31.2,30.83]},
  {"p":1,"L":"G","k":[0,1,2,3,4,5],"x":[200,209.7,231.6,256.9,286.6,322.9],"y":[36.73,36,34.5,33,31.5,30]},
  {"p":2,"L":"A","k":[0,1,2,3,4,5,6,7,8,9,10,11,12,13,14,15,16,17,18],"x":[500,479.4,451.8,428.3,396.4,374.9,360,350.1,344.4,342.5,344.8,351.8,364.2,383.1,411.7,431.9,460.2,481,500],"y":[33.54,33.45,33.25,33,32.5,32,31.5,31,30.5,30,29.5,29,28.5,28,27.5,27.25,27,26.875,26.8]},
  {"p":2,"L":"B","k":[0,1,2,3,4,5,6,7,8,9,10,11,12,13,14,15,16],"x":[500,455.4,421.2,376.7,345.9,322.8,291.5,274.6,269.1,275.8,296.8,336.9,368,413.4,447.9,473.3,500],"y":[34.93,34.75,34.5,34,33.5,33,32,31,30,29,28,27,26.5,26,25.75,25.625,25.54]},
  {"p":2,"L":"C","k":[0,1,2,3,4,5,6,7,8,9,10,11,12],"x":[353.2,319.1,292.7,254.5,230.2,216.5,212,217.5,234.4,265,314.9,351.7,404.6],"y":[35,34.5,34,33,32,31,30,29,28,27,26,25.5,25]},
  {"p":2,"L":"D","k":[0,1,2,3,4],"x":[200,214,231.1,251.8,276.8],"y":[33,33.5,34,34.5,35]},
  {"p":2,"L":"E","k":[0,1,2,3,4,5],"x":[200,208.6,226.5,248.5,275.7,309.9],"y":[27.29,27,26.5,26,25.5,25]},
  {"p":2,"L":"F","k":[0,1,2],"x":[200,207.5,218.3],"y":[34.56,34.75,35]},
  {"p":2,"L":"G","k":[0,1,2,3],"x":[200,217.4,230.4,244.7],"y":[25.88,25.5,25.25,25]},
  {"p":3,"L":"A","k":[0,1,2,3,4,5,6,7,8,9,10,11,12,13,14,15],"x":[81.13,79.86,76.26,70.86,64.5,58.14,52.74,49.14,47.87,49.14,52.74,58.14,64.5,70.86,76.26,79.86],"y":[30,31.55,32.87,33.75,34.06,33.75,32.87,31.55,30,28.45,27.13,26.25,25.94,26.25,27.13,28.45]},
  {"p":3,"L":"B","k":[0,1,2,3,4,5,6,7,8,9,10,11,12,13,14,15],"x":[87.77,86,80.95,73.41,64.5,55.6,48.05,43,41.23,43,48.05,55.6,64.5,73.41,80.95,86],"y":[30,32.18,34.02,35.25,35.68,35.25,34.02,32.18,30,27.83,25.98,24.75,24.32,24.75,25.98,27.83]},
  {"p":3,"L":"C","k":[0,1,2,3,4,5,6,7,8,9,10,11,12,13,14,15],"x":[92.9,90.74,84.58,75.37,64.5,53.63,44.42,38.26,36.1,38.26,44.42,53.63,64.5,75.37,84.58,90.74],"y":[30,32.65,34.91,36.41,36.94,36.41,34.91,32.65,30,27.35,25.1,23.59,23.06,23.59,25.1,27.35]},
  {"p":3,"L":"D","k":[0,1,2,3,4,5,6,7,8,9,10,11,12,13,14,15],"x":[97.24,94.75,87.65,77.03,64.5,51.97,41.35,34.25,31.76,34.25,41.35,51.97,64.5,77.03,87.65,94.75],"y":[30,33.06,35.65,37.39,37.99,37.39,35.65,33.06,30,26.94,24.35,22.61,22.01,22.61,24.35,26.94]},
  {"p":3,"L":"E","k":[0,1,2,3,4,5,6,7,8,9,10,11,12,13,14,15],"x":[101.06,98.28,90.35,78.49,64.5,50.51,38.65,30.72,27.94,30.72,38.65,50.51,64.5,78.49,90.35,98.28],"y":[30,33.42,36.31,38.25,38.93,38.25,36.31,33.42,30,26.58,23.69,21.75,21.07,21.75,23.69,26.58]}
 ],
 "labels": [
  {"p":1,"t":"10.2006","x":245,"y":87.5},
  {"p":1,"t":"11.2618","x":284,"y":84.9},
  {"p":1,"t":"12.3231","x":231,"y":66.4},
  {"p":1,"t":"13.3843","x":318,"y":66.4},
  {"p":1,"t":"11.2618","x":323,"y":39.8},
  {"p":1,"t":"10.2006","x":330,"y":34.4},
  {"p":1,"t":"9.13935","x":265,"y":32.6},
  {"p":2,"t":"11.3050","x":236,"y":34.37},
  {"p":2,"t":"12.2489","x":219,"y":29.77},
  {"p":2,"t":"13.1929","x":270.5,"y":30.12},
  {"p":2,"t":"14.1368","x":343.6,"y":30.12},
  {"p":2,"t":"11.3050","x":250,"y":26.3},
  {"p":2,"t":"10.3611","x":225.5,"y":25.69},
  {"p":3,"t":"8.50356","x":33.1,"y":34.56},
  {"p":3,"t":"9.79956","x":33.1,"y":32.06},
  {"p":3,"t":"11.0956","x":35.6,"y":30.3},
  {"p":3,"t":"12.3916","x":41.0,"y":30.17},
  {"p":3,"t":"13.6876","x":60.6,"y":26.33},
  {"p":3,"t":"11.0956","x":86.1,"y":34.53},
  {"p":3,"t":"12.3916","x":86.15,"y":28.78},
  {"p":3,"t":"11.0956","x":86.4,"y":25.5},
  {"p":3,"t":"8.50356","x":33.1,"y":25.53}
 ],
 "points": [
  {"p":1,"x":350,"y":90},{"p":1,"x":200,"y":60},{"p":1,"x":350,"y":60},{"p":1,"x":500,"y":60},{"p":1,"x":350,"y":30},
  {"p":2,"x":350,"y":35},{"p":2,"x":200,"y":30},{"p":2,"x":350,"y":30},{"p":2,"x":500,"y":30},{"p":2,"x":350,"y":25}
 ],
 "reps": [{"p":1,"x":350,"y":60,"t":"6"}]
},
"spacing": 65,
"vconcat": [
 {"spacing": 36, "vconcat": [
  {
   "width": 446, "height": 360,
   "title": "xanthan production",
   "resolve": {"scale": {"x": "independent", "y": "independent"}},
   "layer": [
    {"data": {"name": "grid"},
     "transform": [{"filter": "datum.p == 1"}, {"flatten": ["j"]}, {"flatten": ["i", "v"]}],
     "mark": {"type": "rect", "strokeWidth": 0.6},
     "encoding": {
      "x": {"field": "i", "type": "ordinal", "scale": {"paddingInner": 0, "paddingOuter": 0}, "axis": {"orient": "top", "labels": false, "ticks": false, "title": null}},
      "y": {"field": "j", "type": "ordinal", "sort": "descending", "scale": {"paddingInner": 0, "paddingOuter": 0}, "axis": {"orient": "right", "labels": false, "ticks": false, "title": null}},
      "color": {"field": "v", "type": "quantitative", "legend": null, "scale": {"domain": [7.0, 8.2, 9.2, 10.1, 11.0, 12.0, 12.8, 13.4, 13.9, 14.4, 15.2], "range": ["#1a5fd8", "#0aa0f0", "#00e0e8", "#00e890", "#10f020", "#5cff00", "#b8ff00", "#f4ff00", "#ffd800", "#ffac00", "#ff9800"], "clamp": true}},
      "stroke": {"field": "v", "type": "quantitative", "legend": null, "scale": {"domain": [7.0, 8.2, 9.2, 10.1, 11.0, 12.0, 12.8, 13.4, 13.9, 14.4, 15.2], "range": ["#1a5fd8", "#0aa0f0", "#00e0e8", "#00e890", "#10f020", "#5cff00", "#b8ff00", "#f4ff00", "#ffd800", "#ffac00", "#ff9800"], "clamp": true}}
     }},
    {"encoding": {
      "x": {"field": "x", "type": "quantitative", "scale": {"domain": [200, 500], "nice": false, "zero": false}, "axis": {"orient": "bottom", "title": "A: Agitation rate", "values": [200, 275, 350, 425, 500], "format": ".2f", "tickSize": 7, "labelPadding": 12, "titlePadding": 34}},
      "y": {"field": "y", "type": "quantitative", "scale": {"domain": [30, 90], "nice": false, "zero": false}, "axis": {"orient": "left", "title": "B: Carbon source", "values": [30, 45, 60, 75, 90], "format": ".2f", "tickSize": 13, "labelPadding": 1, "titleX": -99, "titleY": 199, "titleAngle": -90, "titleBaseline": "bottom", "titleAlign": "center"}}
     },
     "layer": [
      {"data": {"name": "grid2"}, "transform": [{"filter": "datum.p == 1"}, {"flatten": ["y"]}, {"flatten": ["x", "v"]}], "mark": {"type": "point", "shape": "M-1,-0.9686H1V0.9686H-1Z", "size": 345.3, "filled": true, "opacity": 0.5, "strokeWidth": 0, "clip": true}, "encoding": {"color": {"field": "v", "type": "quantitative", "legend": null, "scale": {"domain": [7.0, 8.2, 9.2, 10.1, 11.0, 12.0, 12.8, 13.4, 13.9, 14.4, 15.2], "range": ["#1a5fd8", "#0aa0f0", "#00e0e8", "#00e890", "#10f020", "#5cff00", "#b8ff00", "#f4ff00", "#ffd800", "#ffac00", "#ff9800"], "clamp": true}}}},
      {"data": {"name": "contours"}, "transform": [{"filter": "datum.p == 1"}, {"flatten": ["k", "x", "y"]}], "mark": {"type": "line", "interpolate": "catmull-rom", "clip": true, "color": "#2f3d1c", "strokeWidth": 1.1, "opacity": 0.75}, "encoding": {"detail": {"field": "L", "type": "nominal"}, "order": {"field": "k", "type": "quantitative"}}},
      {"data": {"name": "labels"}, "transform": [{"filter": "datum.p == 1"}], "mark": {"type": "point", "shape": "M-1,-0.234H1V0.234H-1Z", "size": 2209, "filled": true, "color": "#ffffff", "stroke": "#a0a0a0", "strokeWidth": 0.6, "opacity": 1, "clip": true}},
      {"data": {"name": "labels"}, "transform": [{"filter": "datum.p == 1"}], "mark": {"type": "text", "font": "Liberation Sans", "fontSize": 9, "color": "#23235f", "clip": true}, "encoding": {"text": {"field": "t", "type": "nominal"}}},
      {"data": {"name": "reps"}, "transform": [{"filter": "datum.p == 1"}], "mark": {"type": "text", "font": "Liberation Sans", "fontSize": 9, "color": "#555555", "dx": -9}, "encoding": {"text": {"field": "t", "type": "nominal"}}},
      {"data": {"name": "points"}, "transform": [{"filter": "datum.p == 1"}], "mark": {"type": "circle", "size": 90, "color": "#b81818", "opacity": 1}}
     ]}
   ]
  },
  {
   "width": 446, "height": 360,
   "title": "xanthan production",
   "resolve": {"scale": {"x": "independent", "y": "independent"}},
   "layer": [
    {"data": {"name": "grid"},
     "transform": [{"filter": "datum.p == 2"}, {"flatten": ["j"]}, {"flatten": ["i", "v"]}],
     "mark": {"type": "rect", "strokeWidth": 0.6},
     "encoding": {
      "x": {"field": "i", "type": "ordinal", "scale": {"paddingInner": 0, "paddingOuter": 0}, "axis": {"orient": "top", "labels": false, "ticks": false, "title": null}},
      "y": {"field": "j", "type": "ordinal", "sort": "descending", "scale": {"paddingInner": 0, "paddingOuter": 0}, "axis": {"orient": "right", "labels": false, "ticks": false, "title": null}},
      "color": {"field": "v", "type": "quantitative", "legend": null, "scale": {"domain": [7.0, 8.2, 9.2, 10.1, 11.0, 12.0, 12.8, 13.4, 13.9, 14.4, 15.2], "range": ["#1a5fd8", "#0aa0f0", "#00e0e8", "#00e890", "#10f020", "#5cff00", "#b8ff00", "#f4ff00", "#ffd800", "#ffac00", "#ff9800"], "clamp": true}},
      "stroke": {"field": "v", "type": "quantitative", "legend": null, "scale": {"domain": [7.0, 8.2, 9.2, 10.1, 11.0, 12.0, 12.8, 13.4, 13.9, 14.4, 15.2], "range": ["#1a5fd8", "#0aa0f0", "#00e0e8", "#00e890", "#10f020", "#5cff00", "#b8ff00", "#f4ff00", "#ffd800", "#ffac00", "#ff9800"], "clamp": true}}
     }},
    {"encoding": {
      "x": {"field": "x", "type": "quantitative", "scale": {"domain": [200, 500], "nice": false, "zero": false}, "axis": {"orient": "bottom", "title": "A: Agitation rate", "values": [200, 275, 350, 425, 500], "format": ".2f", "tickSize": 7, "labelPadding": 12, "titlePadding": 24}},
      "y": {"field": "y", "type": "quantitative", "scale": {"domain": [25, 35], "nice": false, "zero": false}, "axis": {"orient": "left", "title": ["C:", "Temperature"], "values": [25, 27.5, 30, 32.5, 35], "format": ".2f", "tickSize": 13, "labelPadding": 1, "titleX": -98, "titleY": 205, "titleAngle": -90, "titleBaseline": "bottom", "titleAlign": "center", "titleLineHeight": 23}}
     },
     "layer": [
      {"data": {"name": "grid2"}, "transform": [{"filter": "datum.p == 2"}, {"flatten": ["y"]}, {"flatten": ["x", "v"]}], "mark": {"type": "point", "shape": "M-1,-0.9686H1V0.9686H-1Z", "size": 345.3, "filled": true, "opacity": 0.5, "strokeWidth": 0, "clip": true}, "encoding": {"color": {"field": "v", "type": "quantitative", "legend": null, "scale": {"domain": [7.0, 8.2, 9.2, 10.1, 11.0, 12.0, 12.8, 13.4, 13.9, 14.4, 15.2], "range": ["#1a5fd8", "#0aa0f0", "#00e0e8", "#00e890", "#10f020", "#5cff00", "#b8ff00", "#f4ff00", "#ffd800", "#ffac00", "#ff9800"], "clamp": true}}}},
      {"data": {"name": "contours"}, "transform": [{"filter": "datum.p == 2"}, {"flatten": ["k", "x", "y"]}], "mark": {"type": "line", "interpolate": "catmull-rom", "clip": true, "color": "#2f3d1c", "strokeWidth": 1.1, "opacity": 0.75}, "encoding": {"detail": {"field": "L", "type": "nominal"}, "order": {"field": "k", "type": "quantitative"}}},
      {"data": {"name": "labels"}, "transform": [{"filter": "datum.p == 2"}], "mark": {"type": "point", "shape": "M-1,-0.234H1V0.234H-1Z", "size": 2209, "filled": true, "color": "#ffffff", "stroke": "#a0a0a0", "strokeWidth": 0.6, "opacity": 1, "clip": true}},
      {"data": {"name": "labels"}, "transform": [{"filter": "datum.p == 2"}], "mark": {"type": "text", "font": "Liberation Sans", "fontSize": 9, "color": "#23235f", "clip": true}, "encoding": {"text": {"field": "t", "type": "nominal"}}},
      {"data": {"name": "points"}, "transform": [{"filter": "datum.p == 2"}], "mark": {"type": "circle", "size": 90, "color": "#b81818", "opacity": 1}}
     ]}
   ]
  }
 ]},
 {
  "width": 446, "height": 360,
  "title": "xanthan production",
  "resolve": {"scale": {"x": "independent", "y": "independent"}},
  "layer": [
   {"data": {"name": "grid"},
    "transform": [{"filter": "datum.p == 3"}, {"flatten": ["j"]}, {"flatten": ["i", "v"]}],
    "mark": {"type": "rect", "strokeWidth": 0.6},
    "encoding": {
     "x": {"field": "i", "type": "ordinal", "scale": {"paddingInner": 0, "paddingOuter": 0}, "axis": {"orient": "top", "labels": false, "ticks": false, "title": null}},
     "y": {"field": "j", "type": "ordinal", "sort": "descending", "scale": {"paddingInner": 0, "paddingOuter": 0}, "axis": {"orient": "right", "labels": false, "ticks": false, "title": null}},
     "color": {"field": "v", "type": "quantitative", "legend": null, "scale": {"domain": [7.0, 8.2, 9.2, 10.1, 11.0, 12.0, 12.8, 13.4, 13.9, 14.4, 15.2], "range": ["#1a5fd8", "#0aa0f0", "#00e0e8", "#00e890", "#10f020", "#5cff00", "#b8ff00", "#f4ff00", "#ffd800", "#ffac00", "#ff9800"], "clamp": true}},
     "stroke": {"field": "v", "type": "quantitative", "legend": null, "scale": {"domain": [7.0, 8.2, 9.2, 10.1, 11.0, 12.0, 12.8, 13.4, 13.9, 14.4, 15.2], "range": ["#1a5fd8", "#0aa0f0", "#00e0e8", "#00e890", "#10f020", "#5cff00", "#b8ff00", "#f4ff00", "#ffd800", "#ffac00", "#ff9800"], "clamp": true}}
    }},
   {"encoding": {
     "x": {"field": "x", "type": "quantitative", "scale": {"domain": [30, 90], "nice": false, "zero": false}, "axis": {"orient": "bottom", "title": "B: Carbon source", "values": [30, 45, 60, 75, 90], "format": ".2f", "tickSize": 7, "labelPadding": 12, "titlePadding": 12}},
     "y": {"field": "y", "type": "quantitative", "scale": {"domain": [25, 35], "nice": false, "zero": false}, "axis": {"orient": "left", "title": ["C:", "Temperature"], "values": [25, 27.5, 30, 32.5, 35], "format": ".2f", "tickSize": 13, "labelPadding": 1, "titleX": -96, "titleY": 205, "titleAngle": -90, "titleBaseline": "bottom", "titleAlign": "center", "titleLineHeight": 23}}
    },
    "layer": [
     {"data": {"name": "grid2"}, "transform": [{"filter": "datum.p == 3"}, {"flatten": ["y"]}, {"flatten": ["x", "v"]}], "mark": {"type": "point", "shape": "M-1,-0.9686H1V0.9686H-1Z", "size": 345.3, "filled": true, "opacity": 0.5, "strokeWidth": 0, "clip": true}, "encoding": {"color": {"field": "v", "type": "quantitative", "legend": null, "scale": {"domain": [7.0, 8.2, 9.2, 10.1, 11.0, 12.0, 12.8, 13.4, 13.9, 14.4, 15.2], "range": ["#1a5fd8", "#0aa0f0", "#00e0e8", "#00e890", "#10f020", "#5cff00", "#b8ff00", "#f4ff00", "#ffd800", "#ffac00", "#ff9800"], "clamp": true}}}},
     {"data": {"name": "contours"}, "transform": [{"filter": "datum.p == 3"}, {"flatten": ["k", "x", "y"]}], "mark": {"type": "line", "interpolate": "cardinal-closed", "clip": true, "color": "#2f3d1c", "strokeWidth": 1.1, "opacity": 0.75}, "encoding": {"detail": {"field": "L", "type": "nominal"}, "order": {"field": "k", "type": "quantitative"}}},
     {"data": {"name": "labels"}, "transform": [{"filter": "datum.p == 3"}], "mark": {"type": "point", "shape": "M-1,-0.234H1V0.234H-1Z", "size": 2209, "filled": true, "color": "#ffffff", "stroke": "#a0a0a0", "strokeWidth": 0.6, "opacity": 1, "clip": true}},
     {"data": {"name": "labels"}, "transform": [{"filter": "datum.p == 3"}], "mark": {"type": "text", "font": "Liberation Sans", "fontSize": 9, "color": "#23235f", "clip": true}, "encoding": {"text": {"field": "t", "type": "nominal"}}}
    ]}
  ]
 }
]
}
